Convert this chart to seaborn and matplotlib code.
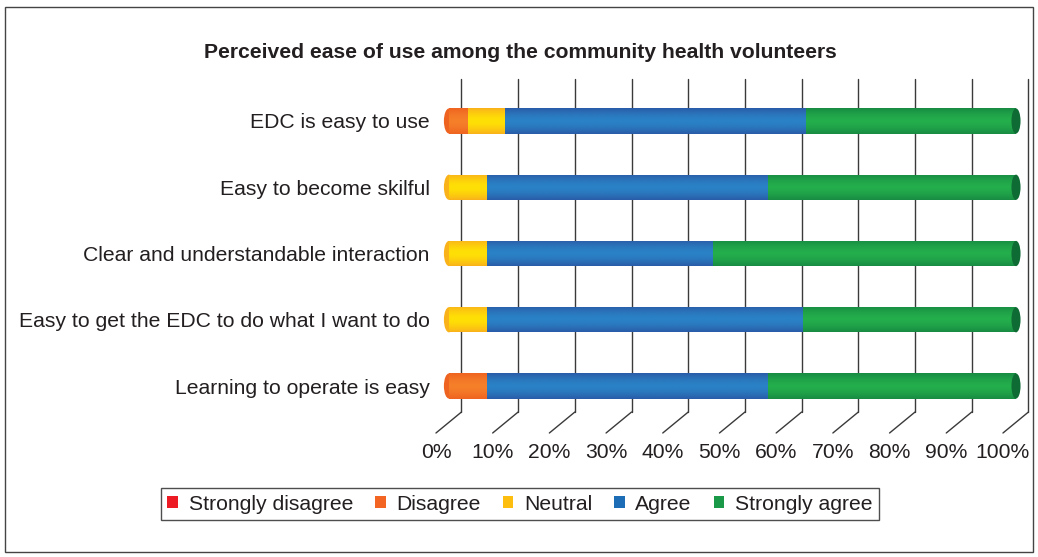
import numpy as np
import pandas as pd
import matplotlib
matplotlib.use("Agg")
import matplotlib.pyplot as plt
import seaborn as sns
from matplotlib.patches import Ellipse, Patch, Rectangle
from matplotlib.colors import to_rgb

# data (percent of respondents)
items = ["EDC is easy to use",
         "Easy to become skilful",
         "Clear and understandable interaction",
         "Easy to get the EDC to do what I want to do",
         "Learning to operate is easy"]
levels = ["Strongly disagree", "Disagree", "Neutral", "Agree", "Strongly agree"]
strongly_disagree = [0, 0, 0, 0, 0]
disagree = [3.2, 0, 0, 0, 6.6]
neutral = [6.6, 6.7, 6.7, 6.7, 0]
agree = [53.0, 49.5, 39.7, 55.7, 49.6]
strongly_agree = [37.2, 43.8, 53.6, 37.6, 43.8]
tick_labels = ["0%", "10%", "20%", "30%", "40%", "50%", "60%", "70%", "80%", "90%", "100%"]

# colours: (edge, centre) for the cylinder shading
shade = {
    "Strongly disagree": ("#D2141C", "#F0262D"),
    "Disagree": ("#EE6320", "#F6802A"),
    "Neutral": ("#F9B21A", "#FFE005"),
    "Agree": ("#2A5CA8", "#2A82C6"),
    "Strongly agree": ("#178B42", "#24AE4C"),
}
legend_cols = ["#ED1C24", "#F26522", "#FDBE10", "#1C6DB5", "#1A9A48"]
txt = "#231F20"
fs = 15.2

df = pd.DataFrame({"item": items,
                   "Strongly disagree": strongly_disagree,
                   "Disagree": disagree,
                   "Neutral": neutral,
                   "Agree": agree,
                   "Strongly agree": strongly_agree})
cum = df[levels].cumsum(axis=1)
cum["item"] = items

sns.set_theme(style="white")
plt.rcParams["font.family"] = ["Liberation Sans", "DejaVu Sans"]

W, H = 1038, 557
fig = plt.figure(figsize=(W / 100, H / 100), dpi=100)

# axes placed so that 0..100 % maps onto the bar run
px_per = 5.67
x0px = 449
xmin, xmax = -3.4, 103
top_px, bot_px = 79, 412
bar_step = 66.25
ax = fig.add_axes([(x0px + xmin * px_per) / W, 1 - bot_px / H,
                   (xmax - xmin) * px_per / W, (bot_px - top_px) / H])
ylo = (bot_px - 121) / bar_step
yhi = (top_px - 121) / bar_step

bar_w = 0.38
ngrad = 64
t = np.linspace(0, 1, ngrad)
prof = np.abs(2 * t - 1) ** 1.6

for i, lev in enumerate(reversed(levels)):
    n_before = len(ax.patches)
    sns.barplot(data=cum, y="item", x=lev, orient="h", color=shade[lev][1],
                width=bar_w, ax=ax, zorder=3 + i, linewidth=0, saturation=1)
    e, c = np.array(to_rgb(shade[lev][0])), np.array(to_rgb(shade[lev][1]))
    grad = (c[None, :] * (1 - prof[:, None]) + e[None, :] * prof[:, None])[:, None, :]
    for p in ax.patches[n_before:]:
        bx, by = p.get_x(), p.get_y()
        bw, bh = p.get_width(), p.get_height()
        if bw <= 0:
            continue
        im = ax.imshow(grad, extent=[bx, bx + bw, by + bh, by], aspect="auto",
                       zorder=3 + i + 0.5, interpolation="bilinear")
        im.set_clip_path(p)

# rounded ends of the cylinders
for k in range(len(items)):
    total = cum.loc[k, "Strongly agree"]
    ax.add_patch(Ellipse((total, k), 1.6, bar_w, facecolor="#0F6B34",
                         edgecolor="none", zorder=20))
    first = next(l for l in levels if df.loc[k, l] > 0)
    ax.add_patch(Ellipse((0, k), 1.8, bar_w, facecolor=shade[first][0],
                         edgecolor="none", zorder=2.5))

# 3D-style gridlines: back verticals and floor diagonals
back_off, front_off = 2.2, -2.3
floor_dy = 21 / bar_step
for k in range(11):
    xb = k * 10 + back_off
    xf = k * 10 + front_off
    ax.plot([xb, xb], [yhi, ylo], color="#3a3a3a", lw=1.0, zorder=1, clip_on=False)
    ax.plot([xb, xf], [ylo, ylo + floor_dy], color="#3a3a3a", lw=1.0, zorder=1,
            clip_on=False)

ax.set_xticks([k * 10 + front_off for k in range(11)], tick_labels)
ax.set_xlim(xmin, xmax)
ax.set_ylim(ylo, yhi)
ax.set_xlabel("")
ax.set_ylabel("")
ax.tick_params(axis="x", length=0, pad=22, labelsize=fs, colors=txt)
ax.tick_params(axis="y", length=0, pad=0, labelsize=fs, colors=txt)
for s in ax.spines.values():
    s.set_visible(False)
ax.set_facecolor("none")

fig.text(520 / W, 1 - 52 / H,
         "Perceived ease of use among the community health volunteers",
         ha="center", va="center", fontsize=fs, fontweight="bold", color=txt)

handles = [Patch(facecolor=c, edgecolor="none") for c in legend_cols]
leg = fig.legend(handles, levels, loc="center", bbox_to_anchor=(520 / W, 1 - 504 / H),
                 ncol=5, frameon=True, fancybox=False, fontsize=fs,
                 handlelength=0.5, handleheight=0.5, handletextpad=0.5,
                 columnspacing=1.05, borderpad=0.3, labelcolor=txt)
leg.get_frame().set_edgecolor("#222222")
leg.get_frame().set_linewidth(1.0)

fig.patches.append(Rectangle((5 / W, 1 - 552 / H), 1028 / W, 545 / H,
                             transform=fig.transFigure, fill=False,
                             edgecolor="#444444", lw=1.0))

fig.savefig("out.png", dpi=100)
